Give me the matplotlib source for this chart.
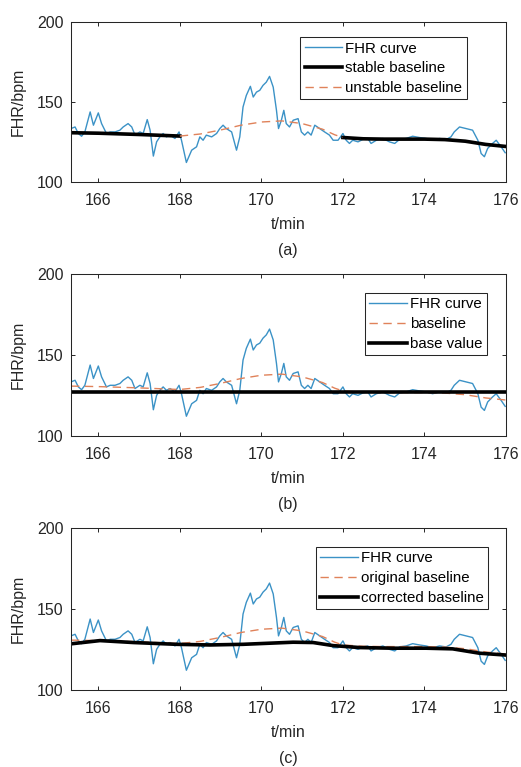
import matplotlib.pyplot as plt

plt.rcParams['font.family'] = ['Liberation Sans', 'DejaVu Sans']

# FHR curve (t in min, bpm)
t_fhr = [165.33, 165.43, 165.51, 165.59, 165.67, 165.80, 165.88, 166.00, 166.08, 166.20,
         166.29, 166.41, 166.53, 166.61, 166.73, 166.82, 166.90, 167.02, 167.10, 167.20,
         167.27, 167.35, 167.43, 167.51, 167.59, 167.67, 167.76, 167.88, 167.98, 168.04,
         168.16, 168.29, 168.41, 168.49, 168.57, 168.65, 168.78, 168.90, 168.98, 169.06,
         169.14, 169.27, 169.39, 169.47, 169.55, 169.63, 169.73, 169.80, 169.88, 169.96,
         170.04, 170.12, 170.20, 170.29, 170.37, 170.42, 170.49, 170.55, 170.61, 170.69,
         170.78, 170.90, 170.98, 171.06, 171.14, 171.22, 171.31, 171.43, 171.55, 171.67,
         171.76, 171.88, 172.00, 172.08, 172.16, 172.24, 172.37, 172.49, 172.61, 172.69,
         172.82, 172.98, 173.14, 173.27, 173.39, 173.55, 173.71, 173.88, 174.04, 174.20,
         174.37, 174.53, 174.65, 174.73, 174.86, 175.02, 175.18, 175.31, 175.39, 175.47,
         175.55, 175.67, 175.76, 175.88, 175.98]
fhr = [133.4, 134.4, 130.3, 128.6, 131.3, 143.8, 135.5, 143.2, 136.5, 130.3,
       131.3, 131.3, 132.4, 134.4, 136.5, 134.4, 129.3, 131.3, 130.3, 139.0,
       132.4, 116.2, 125.1, 128.2, 130.3, 128.2, 129.3, 127.2, 131.3, 126.1,
       112.2, 119.9, 122.0, 128.2, 126.1, 129.3, 128.2, 130.3, 133.4, 135.5,
       133.4, 131.3, 119.9, 128.2, 146.9, 154.1, 159.8, 153.1, 156.2, 157.3,
       160.4, 162.4, 166.0, 159.3, 144.8, 133.4, 138.6, 144.8, 136.5, 134.4,
       138.6, 139.6, 131.3, 129.3, 131.3, 129.3, 135.5, 133.4, 131.3, 129.3,
       126.1, 126.1, 130.3, 126.1, 124.1, 126.1, 125.1, 126.6, 127.2, 124.1,
       126.1, 127.2, 125.1, 124.1, 126.6, 127.2, 128.6, 127.8, 127.2, 126.1,
       127.2, 126.6, 128.2, 131.3, 134.4, 133.4, 132.4, 126.1, 117.8, 115.8,
       121.0, 124.1, 126.1, 122.0, 118.3]

# baseline
t_base = [165.33, 166.0, 167.0, 167.5, 168.0, 168.5, 169.0, 169.5, 170.0, 170.5,
          171.0, 171.5, 171.8, 172.0, 172.5, 173.0, 173.5, 174.0, 174.5, 175.0,
          175.5, 176.0]
base = [130.8, 130.5, 129.7, 129.2, 128.7, 130.0, 132.5, 135.5, 137.5, 138.2,
        136.5, 133.0, 129.5, 127.8, 127.0, 126.8, 126.8, 126.8, 126.5, 125.5,
        123.5, 122.2]

stable_ranges = [(165.0, 168.0), (172.0, 177.0)]
base_value = 127.3

# corrected baseline
t_corr = [165.33, 166.04, 166.86, 167.92, 168.73, 169.55, 170.78, 171.27, 171.76,
          172.41, 173.22, 174.04, 174.69, 175.35, 175.98]
corr = [128.5, 130.5, 129.3, 128.2, 127.8, 128.2, 129.5, 129.3, 127.4,
        126.2, 125.8, 125.8, 125.4, 122.7, 121.6]

xticks = [166, 168, 170, 172, 174, 176]
yticks = [100, 150, 200]
panel_tags = ['(a)', '(b)', '(c)']

W, H = 521, 767
blue = '#3b92c6'
orange = '#e0825a'

fig = plt.figure(figsize=(W / 100, H / 100), dpi=100)

# axes boxes in pixels: left, top, right, bottom
boxes = [(71, 22, 506, 182), (71, 274, 506, 436), (71, 528, 506, 690)]
axs = []
for (l, t, r, b) in boxes:
    ax = fig.add_axes([l / W, 1 - b / H, (r - l) / W, (b - t) / H])
    axs.append(ax)

for i, ax in enumerate(axs):
    l, t, r, b = boxes[i]
    hpx = b - t
    ax.plot(t_fhr, fhr, color=blue, lw=1.0, label='FHR curve')
    if i == 0:
        for k, (a0, a1) in enumerate(stable_ranges):
            xs = [x for x in t_base if a0 <= x <= a1]
            ys = [y for x, y in zip(t_base, base) if a0 <= x <= a1]
            ax.plot(xs, ys, color='black', lw=2.6,
                    label='stable baseline' if k == 0 else None)
        xs = [x for x in t_base if 168.0 <= x <= 172.0]
        ys = [y for x, y in zip(t_base, base) if 168.0 <= x <= 172.0]
        ax.plot(xs, ys, color=orange, lw=1.0, ls=(0, (6, 4)), label='unstable baseline')
        anchor = (0.91, 0.906)
    elif i == 1:
        ax.plot(t_base, base, color=orange, lw=1.0, ls=(0, (6, 4)), label='baseline')
        ax.axhline(base_value, color='black', lw=2.6, label='base value')
        anchor = (0.956, 0.883)
    else:
        ax.plot(t_base, base, color=orange, lw=1.0, ls=(0, (6, 4)), label='original baseline')
        ax.plot(t_corr, corr, color='black', lw=2.6, label='corrected baseline')
        anchor = (0.959, 0.883)

    ax.set_xlim(165.33, 176)
    ax.set_ylim(100, 200)
    ax.set_xticks(xticks)
    ax.set_yticks(yticks)
    ax.tick_params(direction='in', length=3, width=0.7, top=True, right=True,
                   labelsize=11.5, colors='#262626')
    ax.tick_params(axis='x', pad=8)
    ax.tick_params(axis='y', pad=5.5)
    for s in ax.spines.values():
        s.set_linewidth(0.75)
        s.set_color('#262626')

    ax.set_ylabel('FHR/bpm', fontsize=11.5, color='#262626')
    ax.yaxis.set_label_coords(-(71 - 26) / 435, 0.5)
    ax.set_xlabel('t/min', fontsize=11.5, color='#262626')
    ax.xaxis.set_label_coords(0.5, -35 / hpx)

    fig.text(288 / W, 1 - (b + 69) / H, panel_tags[i], ha='center', va='center',
             fontsize=11.5, color='#262626')

    leg = ax.legend(loc='upper right', bbox_to_anchor=anchor, fontsize=10.8,
                    fancybox=False, framealpha=1, edgecolor='#262626',
                    handlelength=2.5, handletextpad=0.2, labelspacing=0.38,
                    borderpad=0.3, borderaxespad=0)
    leg.get_frame().set_linewidth(0.75)

plt.savefig('out.png', dpi=100)
